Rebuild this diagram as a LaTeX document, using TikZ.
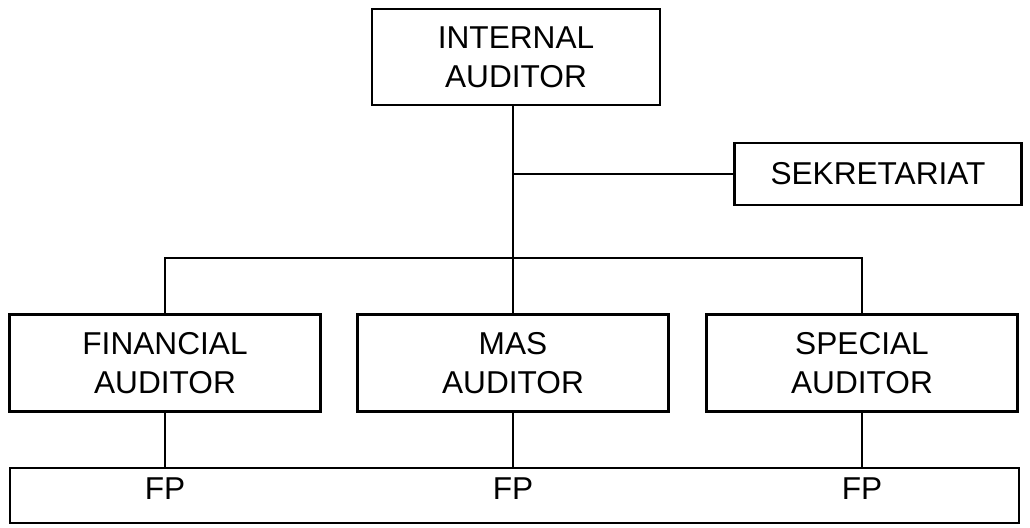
\documentclass[tikz,border=0pt]{standalone}
\usepackage{fontspec}
\setmainfont{Liberation Sans}
\usepackage{tikz}
\usetikzlibrary{positioning,calc}

\tikzset{
  unit/.style={draw, line width=1.5pt, align=center, inner sep=0pt,
    font=\fontsize{18}{22}\selectfont},
  link/.style={line width=1.5pt},
  fplabel/.style={font=\fontsize{18}{22}\selectfont, inner sep=0pt}
}

\begin{document}
\begin{tikzpicture}[x=0.02cm,y=-0.02cm]
  \useasboundingbox (0,0) rectangle (1030,527);
  % head and staff
  \node[unit, minimum width=5.76cm, minimum height=1.92cm] (head) at (516,57) {INTERNAL\\AUDITOR};
  \node[unit, minimum width=5.74cm, minimum height=1.24cm] (sek) at (878,174) {SEKRETARIAT};
  % auditors
  \node[unit, minimum width=6.22cm, minimum height=1.94cm] (fin) at (165,363) {FINANCIAL\\AUDITOR};
  \node[unit, minimum width=6.22cm, minimum height=1.94cm] (mas) at (513,363) {MAS\\AUDITOR};
  \node[unit, minimum width=6.22cm, minimum height=1.94cm] (spec) at (862,363) {SPECIAL\\AUDITOR};
  % functional staff bar
  \node[draw, line width=1.5pt, minimum width=20.18cm, minimum height=1.1cm, inner sep=0pt] (bar) at (514.5,495.5) {};
  \node[fplabel, below=0.22cm of fin.south |- bar.north] (fpfin) {FP};
  \node[fplabel, below=0.22cm of mas.south |- bar.north] (fpmas) {FP};
  \node[fplabel, below=0.22cm of spec.south |- bar.north] (fpspec) {FP};

  \coordinate (bus) at (513,258);
  \coordinate (tee) at (513,174);
  \draw[link] (head.south -| mas.north) -- (mas.north);
  \draw[link] (tee) -- (sek.west);
  \draw[link] (fin.north) -- (fin.north |- bus) -- (spec.north |- bus) -- (spec.north);
  \draw[link] (fin.south) -- (fin.south |- bar.north);
  \draw[link] (mas.south) -- (mas.south |- bar.north);
  \draw[link] (spec.south) -- (spec.south |- bar.north);
\end{tikzpicture}
\end{document}
